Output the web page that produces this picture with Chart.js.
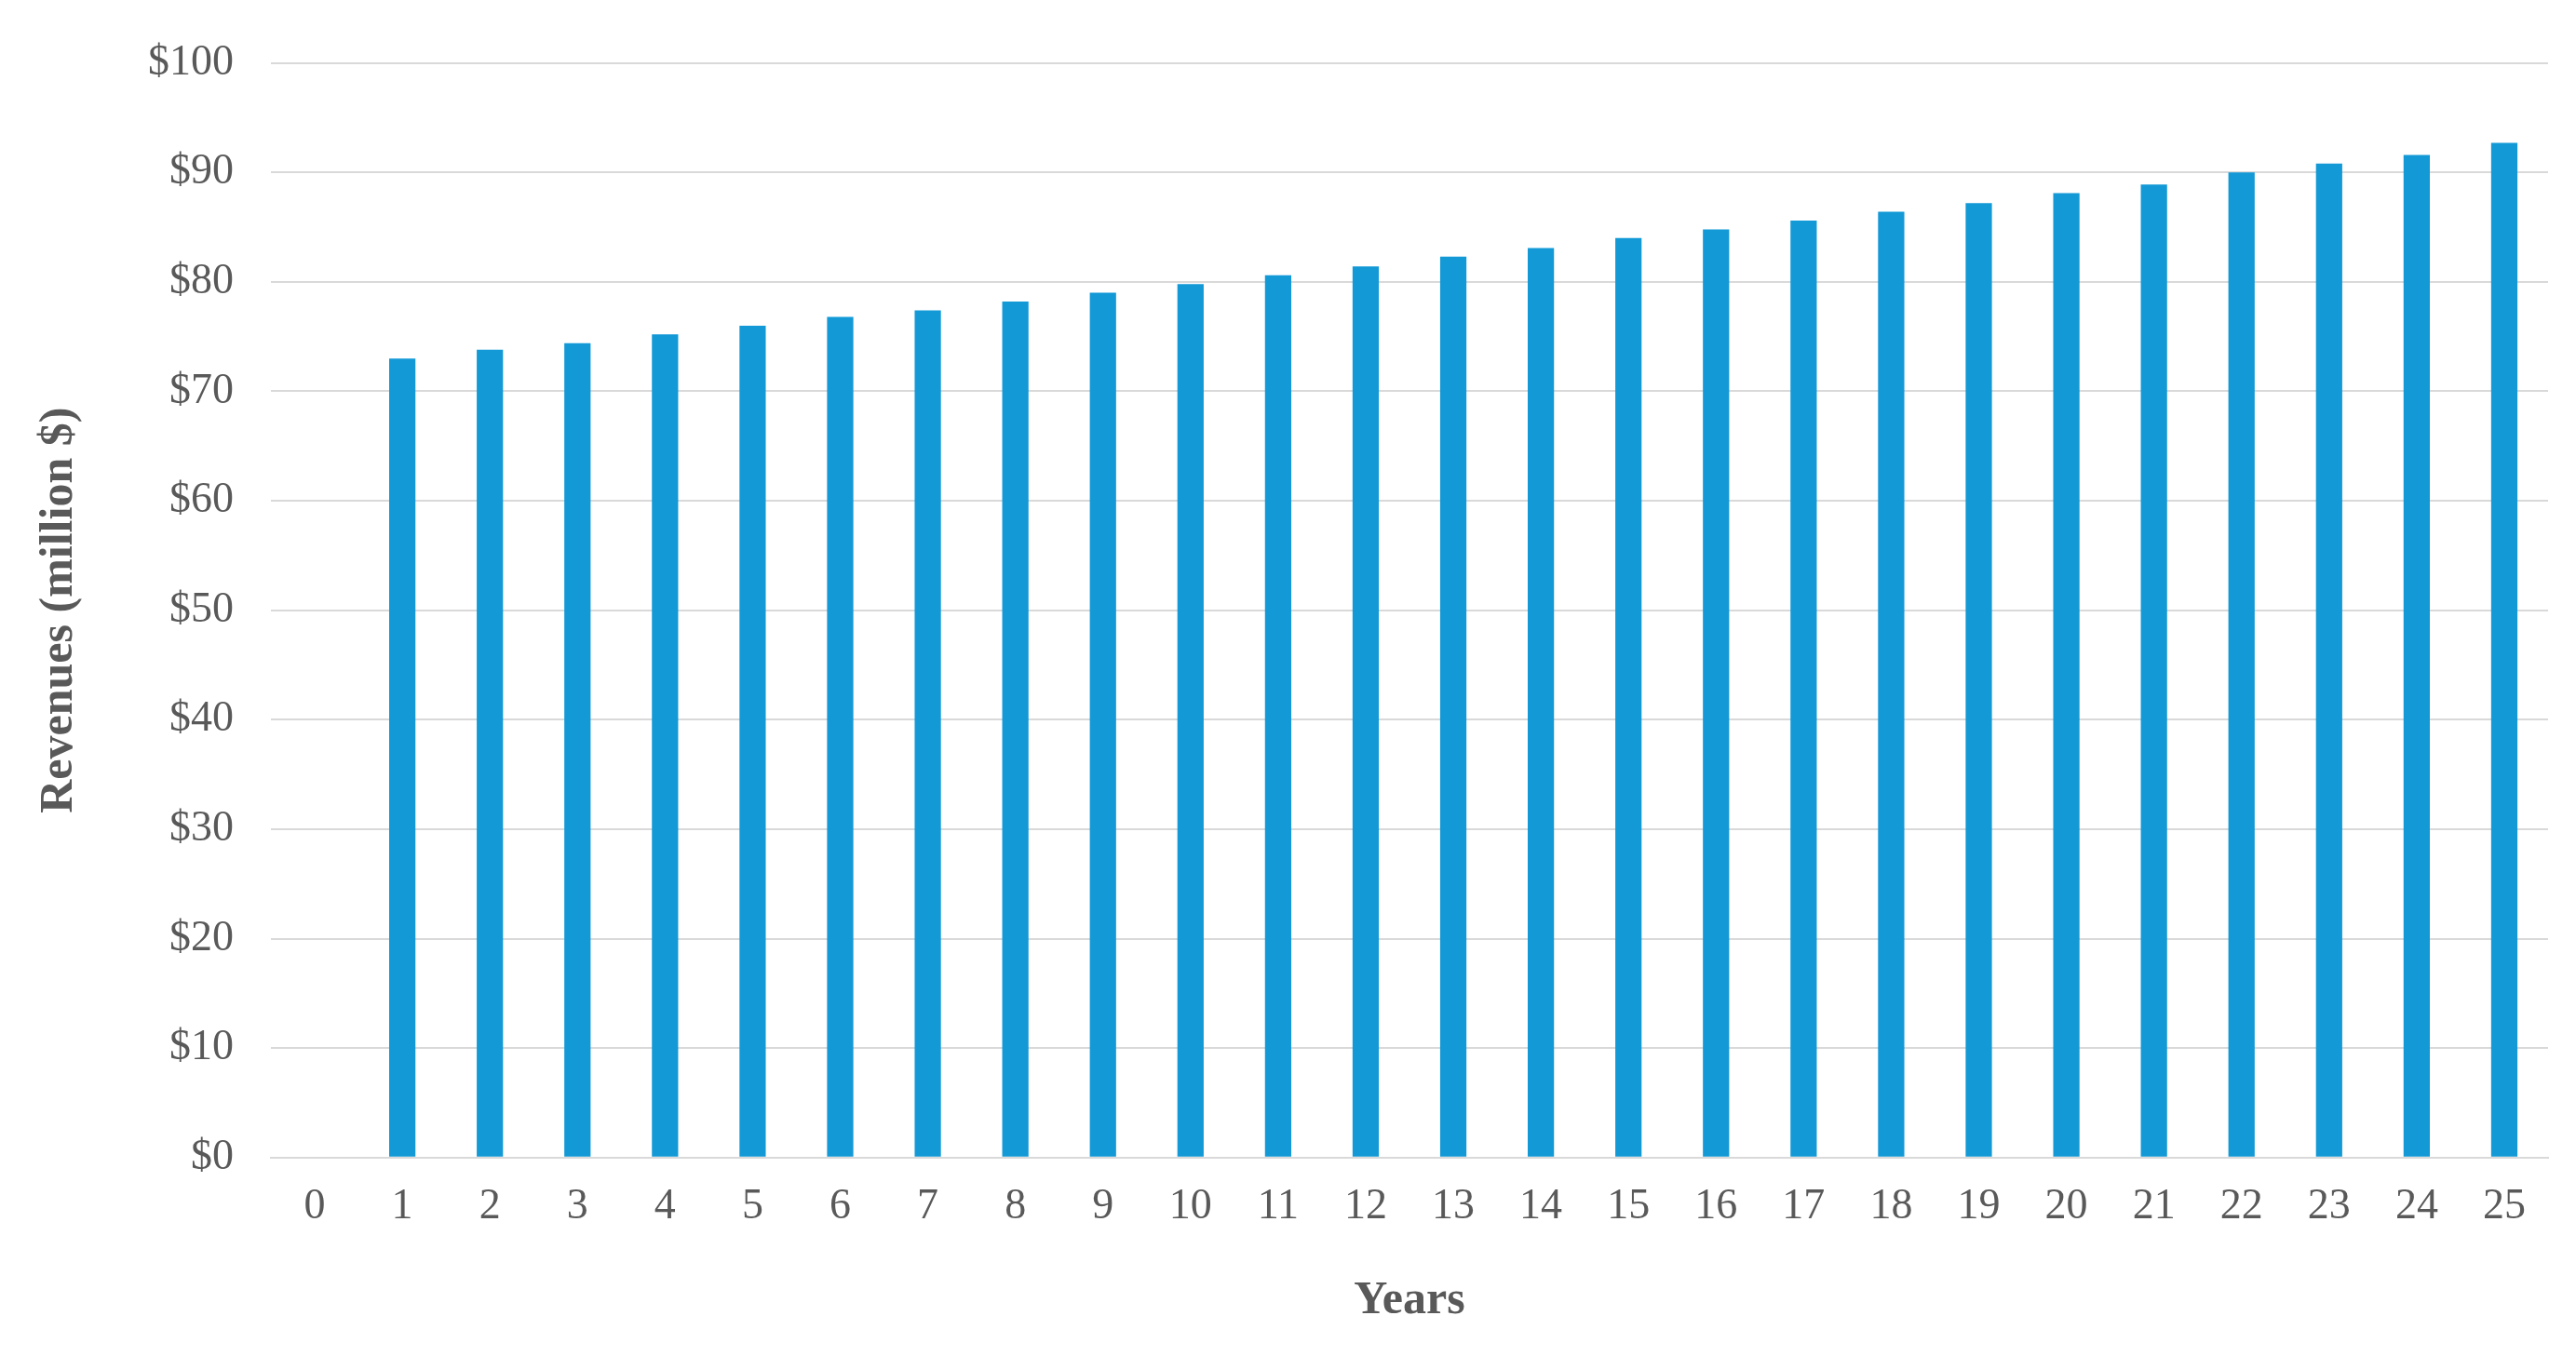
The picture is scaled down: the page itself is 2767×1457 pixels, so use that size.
<!DOCTYPE html>
<html>
<head>
<meta charset="utf-8">
<script src="https://cdn.jsdelivr.net/npm/chart.js@4"></script>
<style>
body { margin: 0; background: #fff; }
</style>
</head>
<body>
<canvas id="revenueChart" width="2767" height="1457"></canvas>
<script>
const years = ['0', '1', '2', '3', '4', '5', '6', '7', '8', '9', '10', '11', '12', '13', '14', '15', '16', '17', '18', '19', '20', '21', '22', '23', '24', '25'];
const revenues = [null, 73.0, 73.8, 74.4, 75.2, 76.0, 76.8, 77.4, 78.2, 79.0, 79.8, 80.6, 81.4, 82.3, 83.1, 84.0, 84.8, 85.6, 86.4, 87.2, 88.1, 88.9, 90.0, 90.8, 91.6, 92.7];

const tickFont = { family: 'Liberation Serif', size: 46 };
const titleFont = { family: 'Liberation Serif', size: 50, weight: 'bold' };

const revenueChart = new Chart(
    document.getElementById('revenueChart'), {
    type: 'bar',
    data: {
        labels: years,
        datasets: [{
            label: 'Revenues',
            data: revenues,
            backgroundColor: '#1399d6',
            barPercentage: 0.3,
            categoryPercentage: 1.0
        }]
    },
    options: {
        responsive: false,
        devicePixelRatio: 1,
        animation: false,
        layout: { padding: { left: 30, right: 30, top: 45, bottom: 25 } },
        plugins: {
            legend: { display: false },
            tooltip: { enabled: false }
        },
        scales: {
            x: {
                grid: { display: false },
                border: { color: '#d9d9d9', width: 2 },
                ticks: { color: '#595959', font: tickFont, padding: 18 },
                title: { display: true, text: 'Years', color: '#595959', font: titleFont, padding: { top: 25 } }
            },
            y: {
                min: 0,
                max: 100,
                grid: { color: '#d9d9d9', lineWidth: 2, drawTicks: false },
                border: { display: false },
                ticks: {
                    stepSize: 10,
                    color: '#595959',
                    font: tickFont,
                    padding: 40,
                    callback: v => '$' + v
                },
                title: { display: true, text: 'Revenues (million $)', color: '#595959', font: titleFont, padding: { bottom: 25 } }
            }
        }
    }
}
);
</script>
</body>
</html>
